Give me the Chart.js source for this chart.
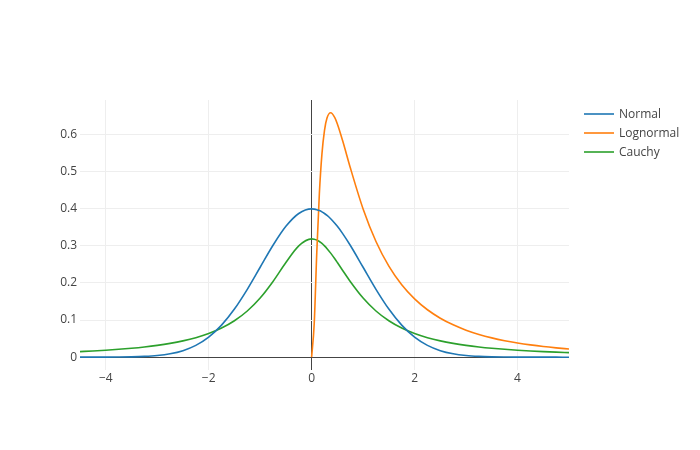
<!DOCTYPE html>
<html>
<head>
<meta charset="utf-8">
<script src="https://cdn.jsdelivr.net/npm/chart.js@4"></script>
<style>
  html, body { margin: 0; padding: 0; background: #fff; }
  #wrap { width: 700px; height: 450px; }
</style>
</head>
<body>
<div id="wrap"><canvas id="distChart" width="700" height="450"></canvas></div>
<script>
// x positions the curves were sampled at
var xs = [-4.5, -4.25, -4, -3.75, -3.5, -3.25, -3, -2.75, -2.5, -2.25, -2, -1.75, -1.5, -1.25, -1, -0.75, -0.5, -0.25,
          0, 0.05, 0.1, 0.15, 0.2, 0.25, 0.3, 0.37, 0.45, 0.5, 0.6, 0.75, 1, 1.25, 1.5, 1.75, 2, 2.25, 2.5, 2.75,
          3, 3.25, 3.5, 3.75, 4, 4.25, 4.5, 4.75, 5];

var normalY = [0.00002, 0.00005, 0.00013, 0.00035, 0.00087, 0.00203, 0.00443, 0.00909, 0.01753, 0.03174, 0.05399, 0.08628, 0.12952, 0.18265, 0.24197, 0.30114, 0.35207, 0.38667,
               0.39894, 0.39844, 0.39695, 0.39448, 0.39104, 0.38667, 0.38139, 0.37255, 0.36053, 0.35207, 0.33322, 0.30114, 0.24197, 0.18265, 0.12952, 0.08628, 0.05399, 0.03174, 0.01753, 0.00909,
               0.00443, 0.00203, 0.00087, 0.00035, 0.00013, 0.00005, 0.00002, 0.00001, 0];

// lognormal is only drawn from x = 0 onwards
var lognormalY = [null, null, null, null, null, null, null, null, null, null, null, null, null, null, null, null, null, null,
                  0, 0.0899, 0.2816, 0.4397, 0.5463, 0.6105, 0.6442, 0.6577, 0.6445, 0.6275, 0.5836, 0.5104, 0.3989, 0.3113, 0.2450, 0.1949, 0.1569, 0.1276, 0.1049, 0.0870,
                  0.0727, 0.0613, 0.0520, 0.0444, 0.0382, 0.0330, 0.0286, 0.0250, 0.0219];

var cauchyY = [0.01498, 0.01670, 0.01872, 0.02113, 0.02402, 0.02753, 0.03183, 0.03718, 0.04391, 0.05251, 0.06366, 0.07835, 0.09794, 0.12422, 0.15915, 0.20372, 0.25465, 0.29959,
               0.31831, 0.31752, 0.31516, 0.31131, 0.30607, 0.29959, 0.29203, 0.27998, 0.26471, 0.25465, 0.23405, 0.20372, 0.15915, 0.12422, 0.09794, 0.07835, 0.06366, 0.05251, 0.04391, 0.03718,
               0.03183, 0.02753, 0.02402, 0.02113, 0.01872, 0.01670, 0.01498, 0.01351, 0.01224];

var seriesNames = ['Normal', 'Lognormal', 'Cauchy'];
var seriesColors = ['#1f77b4', '#ff7f0e', '#2ca02c'];
var xTicks = [-4, -2, 0, 2, 4];
var yTicks = [0, 0.1, 0.2, 0.3, 0.4, 0.5, 0.6];

function toPoints(ys) {
    return xs.map(function (x, i) { return { x: x, y: ys[i] }; });
}

function fmt(v) {
    var s = String(v);
    return s.charAt(0) === '-' ? '\u2212' + s.slice(1) : s;
}

var FONT = '"Open Sans", "Noto Sans", sans-serif';

// plotly-like legend drawn to the right of the plot
var sideLegend = {
    id: 'sideLegend',
    afterDraw: function (chart) {
        var c = chart.ctx;
        c.save();
        c.font = '12px ' + FONT;
        c.textBaseline = 'middle';
        c.fillStyle = '#444';
        chart.data.datasets.forEach(function (ds, i) {
            var y = 114 + i * 19;
            c.strokeStyle = ds.borderColor;
            c.lineWidth = 1.6;
            c.beginPath();
            c.moveTo(584, y);
            c.lineTo(614, y);
            c.stroke();
            c.fillText(ds.label, 619, y + 1);
        });
        c.restore();
    }
};

var ctx = document.getElementById('distChart').getContext('2d');
new Chart(ctx, {
    type: 'line',
    data: {
        datasets: [
            { label: seriesNames[0], data: toPoints(normalY), borderColor: seriesColors[0] },
            { label: seriesNames[1], data: toPoints(lognormalY), borderColor: seriesColors[1] },
            { label: seriesNames[2], data: toPoints(cauchyY), borderColor: seriesColors[2] }
        ]
    },
    options: {
        responsive: false,
        animation: false,
        layout: { padding: { top: 100, right: 131, left: 0, bottom: 0 } },
        elements: {
            point: { radius: 0 },
            line: { borderWidth: 1.6, cubicInterpolationMode: 'monotone', fill: false }
        },
        plugins: {
            legend: { display: false },
            tooltip: { enabled: false }
        },
        scales: {
            x: {
                type: 'linear',
                min: -4.5,
                max: 5,
                afterFit: function (s) { s.height = 80; },
                afterBuildTicks: function (s) { s.ticks = xTicks.map(function (v) { return { value: v }; }); },
                border: { display: false },
                grid: {
                    drawTicks: false,
                    color: function (c) { return c.tick && c.tick.value === 0 ? '#444' : '#eee'; },
                    lineWidth: 1
                },
                ticks: {
                    padding: 1,
                    color: '#444',
                    font: { family: FONT, size: 12 },
                    maxRotation: 0,
                    callback: function (v) { return fmt(v); }
                }
            },
            y: {
                min: -0.0345,
                max: 0.692,
                afterFit: function (s) { s.width = 80; },
                afterBuildTicks: function (s) { s.ticks = yTicks.map(function (v) { return { value: v }; }); },
                border: { display: false },
                grid: {
                    drawTicks: false,
                    color: function (c) { return c.tick && c.tick.value === 0 ? '#444' : '#eee'; },
                    lineWidth: 1
                },
                ticks: {
                    padding: 3,
                    color: '#444',
                    font: { family: FONT, size: 12 },
                    callback: function (v) { return fmt(v); }
                }
            }
        }
    },
    plugins: [sideLegend]
});
</script>
</body>
</html>
